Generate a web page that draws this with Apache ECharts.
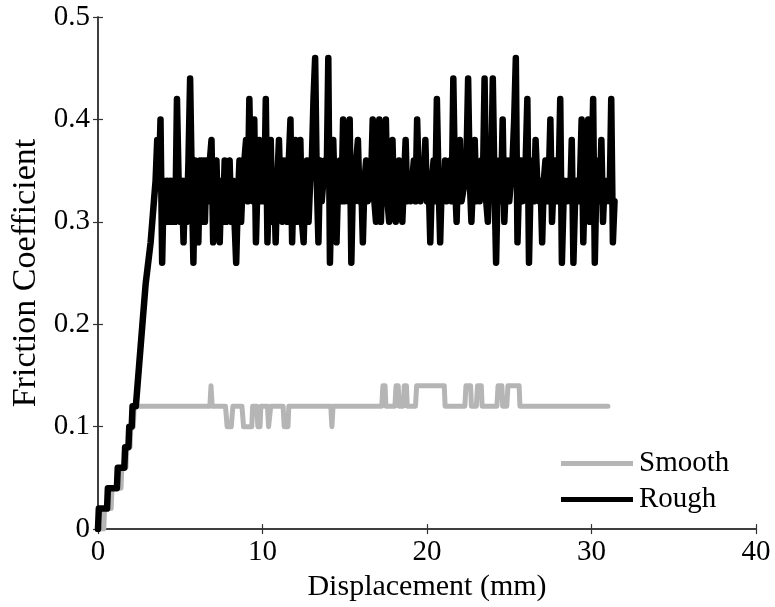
<!DOCTYPE html>
<html>
<head>
<meta charset="utf-8">
<script src="https://cdn.jsdelivr.net/npm/echarts@6/dist/echarts.min.js"></script>
<style>html,body{margin:0;padding:0;background:#fff}#c{width:775px;height:607px}</style>
</head>
<body>
<div id="c"></div>
<script>
var seriesNames = ['Smooth', 'Rough'];
var xTicks = [0, 10, 20, 30, 40];
var yTicks = [0, 0.1, 0.2, 0.3, 0.4, 0.5];

var smoothX = [0,0.35,0.4,0.8,0.85,1.4,1.45,1.7,1.75,1.95,2.0,2.15,2.2,
  6.8,6.87,6.94,
  7.75,7.85,8.1,8.2,
  8.75,8.85,9.35,9.4,
  9.65,9.72,9.85,9.9,
  10.3,10.37,10.45,10.5,
  11.25,11.32,11.55,11.6,
  14.15,14.22,14.29,
  17.25,17.32,17.45,17.5,
  18.05,18.12,18.25,18.3,
  18.55,18.62,18.75,18.8,
  19.3,19.37,21.05,21.1,
  22.3,22.37,22.65,22.7,
  23.0,23.07,23.3,23.35,
  24.25,24.32,24.55,24.6,
  24.85,24.92,25.6,25.65,
  31.0];
var smoothY = [0,0,0.02,0.02,0.04,0.04,0.06,0.06,0.08,0.08,0.10,0.10,0.12,
  0.12,0.14,0.12,
  0.12,0.10,0.10,0.12,
  0.12,0.10,0.10,0.12,
  0.12,0.10,0.10,0.12,
  0.12,0.10,0.10,0.12,
  0.12,0.10,0.10,0.12,
  0.12,0.10,0.12,
  0.12,0.14,0.14,0.12,
  0.12,0.14,0.14,0.12,
  0.12,0.14,0.14,0.12,
  0.12,0.14,0.14,0.12,
  0.12,0.14,0.14,0.12,
  0.12,0.14,0.14,0.12,
  0.12,0.14,0.14,0.12,
  0.12,0.14,0.14,0.12,
  0.12];

// Rough: initial ramp (x, y pairs)
var roughRampX = [0,0.05,0.55,0.6,1.15,1.2,1.6,1.65,1.85,1.9,2.05,2.1,2.3,2.4,2.5,2.6,2.7,2.8,2.9,3.05,3.2,3.3,3.4,3.5];
var roughRampY = [0,0.02,0.02,0.04,0.04,0.06,0.06,0.08,0.08,0.10,0.10,0.12,0.12,0.14,0.16,0.18,0.20,0.22,0.24,0.26,0.28,0.30,0.32,0.34];
// Rough: steady sliding part, sampled every 0.1 mm from 3.6 mm
var roughNoiseStart = 3.6;
var roughNoiseStep = 0.1;
var roughNoiseY = [
  0.38,0.34,0.40,0.26,0.34,0.30,0.34,0.30,0.34,0.30,
  0.34,0.30,0.42,0.34,0.30,0.34,0.28,0.34,0.30,0.36,
  0.44,0.34,0.26,0.36,0.30,0.28,0.36,0.30,0.36,0.30,
  0.36,0.32,0.36,0.38,0.28,0.34,0.36,0.30,0.28,0.34,
  0.30,0.36,0.30,0.34,0.36,0.30,0.34,0.30,0.26,0.32,
  0.36,0.30,0.34,0.36,0.38,0.32,0.42,0.34,0.32,0.40,
  0.28,0.34,0.38,0.32,0.36,0.32,0.42,0.28,0.34,0.38,
  0.30,0.34,0.28,0.34,0.38,0.32,0.30,0.36,0.34,0.30,
  0.36,0.40,0.28,0.34,0.38,0.30,0.36,0.38,0.30,0.28,
  0.34,0.36,0.30,0.34,0.36,0.42,0.46,0.34,0.28,0.36,
  0.32,0.32,0.36,0.34,0.46,0.26,0.34,0.38,0.32,0.28,
  0.34,0.36,0.32,0.40,0.32,0.34,0.32,0.40,0.26,0.34,
  0.32,0.36,0.38,0.32,0.34,0.28,0.34,0.36,0.32,0.32,
  0.34,0.40,0.32,0.30,0.36,0.40,0.30,0.36,0.32,0.40,
  0.32,0.30,0.36,0.38,0.32,0.30,0.34,0.36,0.32,0.30,
  0.34,0.38,0.32,0.34,0.32,0.34,0.36,0.32,0.40,0.34,
  0.32,0.36,0.34,0.38,0.32,0.34,0.28,0.34,0.36,0.32,
  0.42,0.34,0.28,0.34,0.32,0.36,0.32,0.34,0.36,0.32,
  0.44,0.34,0.30,0.36,0.38,0.32,0.32,0.34,0.36,0.44,
  0.34,0.30,0.34,0.38,0.32,0.34,0.32,0.36,0.34,0.44,
  0.32,0.30,0.36,0.34,0.44,0.34,0.26,0.34,0.36,0.32,
  0.40,0.30,0.34,0.36,0.32,0.34,0.36,0.40,0.46,0.28,
  0.34,0.36,0.32,0.34,0.36,0.42,0.26,0.34,0.36,0.32,
  0.38,0.34,0.32,0.34,0.28,0.34,0.36,0.32,0.34,0.40,
  0.30,0.34,0.36,0.32,0.34,0.42,0.26,0.32,0.34,0.32,
  0.34,0.32,0.38,0.26,0.32,0.34,0.32,0.34,0.40,0.28,
  0.34,0.36,0.40,0.30,0.34,0.42,0.26,0.34,0.36,0.32,
  0.38,0.30,0.34,0.32,0.34,0.32,0.42,0.28,0.32];

function zip(xs, ys) { return xs.map(function (x, i) { return [x, ys[i]]; }); }
var roughData = zip(roughRampX, roughRampY).concat(roughNoiseY.map(function (v, i) {
  return [Math.round((roughNoiseStart + i * roughNoiseStep) * 100) / 100, v];
}));

var font = "'Liberation Serif','Times New Roman',serif";
var axisLine = { show: true, lineStyle: { color: '#333', width: 1.5 } };
var tick = { show: true, inside: true, length: 5, lineStyle: { color: '#333', width: 1.2 } };

var chart = echarts.init(document.getElementById('c'), null, { renderer: 'canvas' });
chart.setOption({
  animation: false,
  backgroundColor: '#fff',
  grid: { left: 98, right: 19, top: 17, bottom: 75, containLabel: false },
  legend: {
    orient: 'vertical', left: 556, top: 444,
    itemWidth: 72, itemHeight: 5, itemGap: 7,
    icon: 'rect',
    data: seriesNames,
    textStyle: { fontFamily: font, fontSize: 29, color: '#000', padding: [0, 0, 0, 1] }
  },
  xAxis: [{
    type: 'value', min: xTicks[0], max: xTicks[xTicks.length - 1], interval: 10,
    name: 'Displacement (mm)', nameLocation: 'middle', nameGap: 30,
    nameTextStyle: { fontFamily: font, fontSize: 30, color: '#000' },
    axisLine: axisLine, axisTick: tick, splitLine: { show: false },
    axisLabel: { fontFamily: font, fontSize: 29, color: '#000', margin: 9 }
  }, {
    type: 'value', position: 'top', min: 0, max: 40, interval: 10,
    axisLine: axisLine, axisTick: tick, splitLine: { show: false }, axisLabel: { show: false }
  }],
  yAxis: [{
    type: 'value', min: yTicks[0], max: yTicks[yTicks.length - 1], interval: 0.1,
    name: 'Friction Coefficient', nameLocation: 'middle', nameGap: 55,
    nameTextStyle: { fontFamily: font, fontSize: 34, color: '#000' },
    axisLine: axisLine, axisTick: tick, splitLine: { show: false },
    axisLabel: { fontFamily: font, fontSize: 29, color: '#000', margin: 8 }
  }, {
    type: 'value', position: 'right', min: 0, max: 0.5, interval: 0.1,
    axisLine: axisLine, axisTick: tick, splitLine: { show: false }, axisLabel: { show: false }
  }],
  series: [{
    name: seriesNames[0], type: 'line', data: zip(smoothX, smoothY),
    showSymbol: false, symbol: 'none', color: '#b5b5b5',
    lineStyle: { color: '#b5b5b5', width: 5, cap: 'round', join: 'round' }
  }, {
    name: seriesNames[1], type: 'line', data: roughData,
    showSymbol: false, symbol: 'none', color: '#000',
    lineStyle: { color: '#000', width: 6.5, cap: 'round', join: 'round' }
  }]
});
</script>
</body>
</html>
